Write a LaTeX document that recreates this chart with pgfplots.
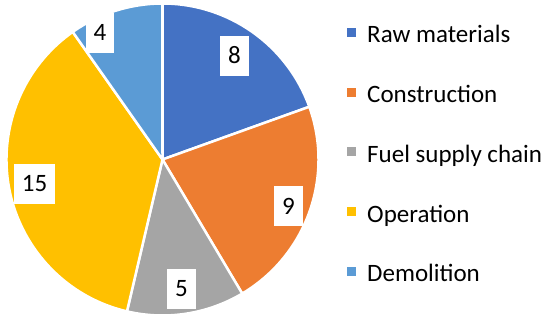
\documentclass[border=0pt]{standalone}
\usepackage{pgfplots}
\pgfplotsset{compat=1.18}
\usepackage{fontspec}
\setmainfont{Carlito}
\definecolor{c1}{HTML}{4472C4}
\definecolor{c2}{HTML}{ED7D31}
\definecolor{c3}{HTML}{A5A5A5}
\definecolor{c4}{HTML}{FFC000}
\definecolor{c5}{HTML}{5B9BD5}
\tikzset{
  lbl/.style={fill=white, inner xsep=8pt, inner ysep=12pt, text height=16pt, text depth=0pt, font=\fontsize{25}{30}\selectfont, text=black},
  leg/.style={anchor=base west, inner sep=0pt, font=\fontsize{25}{30}\selectfont, text=black},
  slice/.style={draw=white, line width=2.5pt, line join=round},
}
\begin{document}
\begin{tikzpicture}
\begin{axis}[
  name=ax,
  width=550pt, height=323pt, scale only axis,
  xmin=0, xmax=550, ymin=0, ymax=323, y dir=reverse,
  hide axis, clip=false,
]
% values: 8, 9, 5, 15, 4 (total 41), clockwise from top
\fill[c1, slice] (axis cs:162.5,159.5) -- (axis cs:{162.5+156*cos(90)},{159.5-156*sin(90)}) arc[start angle=90, end angle={90-360*8/41}, radius=156pt] -- cycle;
\fill[c2, slice] (axis cs:162.5,159.5) -- (axis cs:{162.5+156*cos(90-360*8/41)},{159.5-156*sin(90-360*8/41)}) arc[start angle={90-360*8/41}, end angle={90-360*17/41}, radius=156pt] -- cycle;
\fill[c3, slice] (axis cs:162.5,159.5) -- (axis cs:{162.5+156*cos(90-360*17/41)},{159.5-156*sin(90-360*17/41)}) arc[start angle={90-360*17/41}, end angle={90-360*22/41}, radius=156pt] -- cycle;
\fill[c4, slice] (axis cs:162.5,159.5) -- (axis cs:{162.5+156*cos(90-360*22/41)},{159.5-156*sin(90-360*22/41)}) arc[start angle={90-360*22/41}, end angle={90-360*37/41}, radius=156pt] -- cycle;
\fill[c5, slice] (axis cs:162.5,159.5) -- (axis cs:{162.5+156*cos(90-360*37/41)},{159.5-156*sin(90-360*37/41)}) arc[start angle={90-360*37/41}, end angle={90-360*41/41}, radius=156pt] -- cycle;
% data labels
\node[lbl] at (axis cs:234.5,56) {8};
\node[lbl] at (axis cs:288.5,206.5) {9};
\node[lbl] at (axis cs:181.5,289) {5};
\node[lbl] at (axis cs:34.5,184) {15};
\node[lbl] at (axis cs:100,33) {4};
% legend
\fill[c1] (axis cs:347,28) rectangle (axis cs:356,37);
\fill[c2] (axis cs:347,87.7) rectangle (axis cs:356,96.7);
\fill[c3] (axis cs:347,147.4) rectangle (axis cs:356,156.4);
\fill[c4] (axis cs:347,207.1) rectangle (axis cs:356,216.1);
\fill[c5] (axis cs:347,266.8) rectangle (axis cs:356,275.8);
\node[leg] at (axis cs:367,43) {Raw materials};
\node[leg] at (axis cs:367,102.7) {Construction};
\node[leg] at (axis cs:367,162.4) {Fuel supply chain};
\node[leg] at (axis cs:367,222.1) {Operation};
\node[leg] at (axis cs:367,281.8) {Demolition};
\end{axis}
\pgfresetboundingbox
\path (ax.south west) rectangle (ax.north east);
\end{tikzpicture}
\end{document}
